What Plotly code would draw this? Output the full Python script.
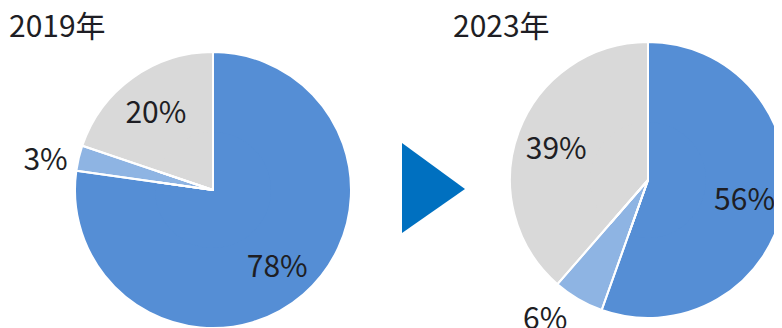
import plotly.graph_objects as go

W, H = 782, 328
OFF = 8  # page body margin offset seen in the rendered page

# Data
categories = ["A", "B", "C"]
values_2019 = [78, 3, 20]
values_2023 = [56, 6, 39]
titles = ["2019年", "2023年"]
pos_2019 = ["inside", "outside", "inside"]
pos_2023 = ["inside", "outside", "inside"]

colors = ["#558ED5", "#8EB4E3", "#D9D9D9"]
FONT = "Noto Sans CJK JP"
TXT = "#1e1e24"


def px_dom_x(c, r):
    c -= OFF
    return [(c - r) / W, (c + r) / W]


def px_dom_y(c, r):
    c -= OFF
    return [1 - (c + r) / H, 1 - (c - r) / H]


fig = go.Figure()


def add_pie(values, positions, cx, cy, r):
    dom = dict(x=px_dom_x(cx, r), y=px_dom_y(cy, r))
    common = dict(labels=categories, values=values, sort=False,
                  direction="clockwise", rotation=0,
                  domain=dom, showlegend=False, hoverinfo="skip")
    # full disc underneath (no text)
    fig.add_trace(go.Pie(textinfo="none",
                         marker=dict(colors=colors, line=dict(color="white", width=2)),
                         **common))
    # ring carrying the labels
    fig.add_trace(go.Pie(
        hole=0.42, texttemplate="%{value}%", textposition=positions,
        insidetextorientation="horizontal",
        marker=dict(colors=colors, line=dict(width=0)),
        textfont=dict(family=FONT, size=30, color=TXT), **common))
    # white separators on top
    fig.add_trace(go.Pie(textinfo="none",
                         marker=dict(colors=["rgba(0,0,0,0)"] * len(values),
                                     line=dict(color="white", width=2)),
                         **common))


add_pie(values_2019, pos_2019, 213, 190, 138)
add_pie(values_2023, pos_2023, 648, 180, 138)

# arrow
ax0, ax1 = (402 - OFF) / W, (465 - OFF) / W
ay0, ay1, aym = 1 - (143 - OFF) / H, 1 - (233 - OFF) / H, 1 - (189 - OFF) / H
fig.add_shape(type="path", xref="paper", yref="paper",
              path=f"M {ax0} {ay0} L {ax1} {aym} L {ax0} {ay1} Z",
              fillcolor="#0070C0", line=dict(width=0))

for t, x in zip(titles, [7, 451]):
    fig.add_annotation(text=t, x=(x - OFF) / W, y=1 - (24 - OFF) / H,
                       xref="paper", yref="paper",
                       xanchor="left", yanchor="middle", showarrow=False,
                       font=dict(family=FONT, size=30, color=TXT))

fig.update_layout(width=W, height=H,
                  margin=dict(l=0, r=0, t=0, b=0, autoexpand=False),
                  paper_bgcolor="white", plot_bgcolor="white")
fig.write_html("out.html")
